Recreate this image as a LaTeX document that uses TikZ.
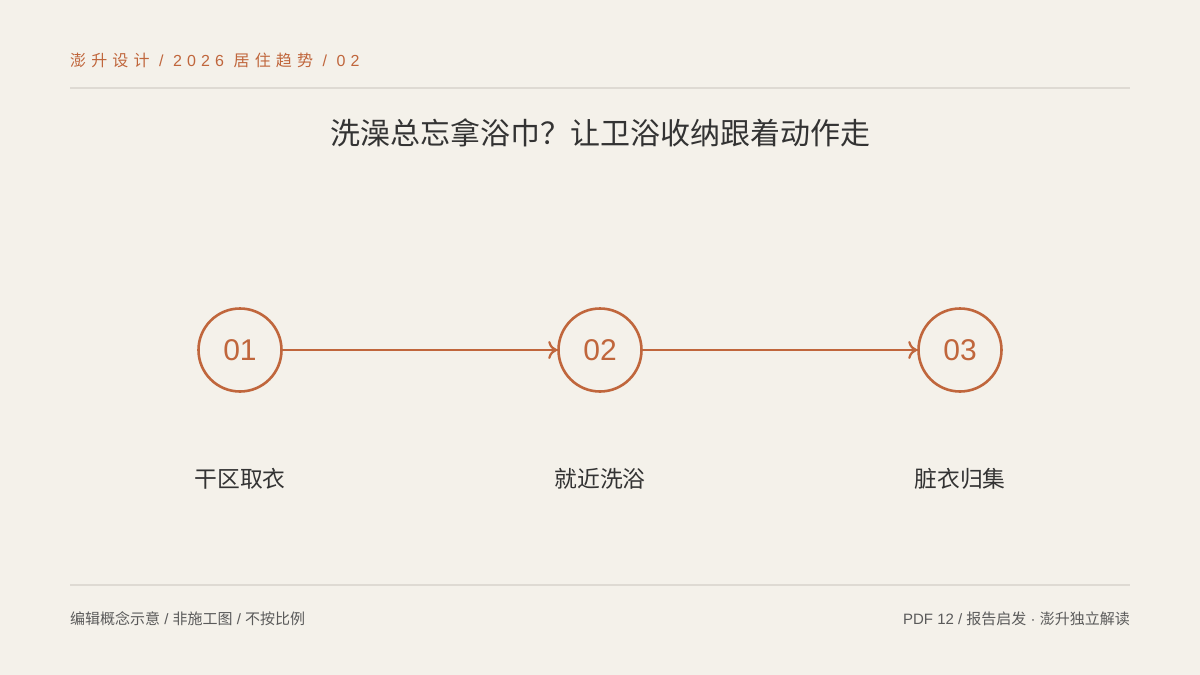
\documentclass[tikz,border=0pt]{standalone}
\usepackage{fontspec}
\setmainfont{Liberation Sans}
\newfontfamily\cjk{Noto Sans CJK SC}
\newfontfamily\cjkspaced[LetterSpace=32]{Noto Sans CJK SC}
\newfontfamily\latspaced[LetterSpace=32]{Liberation Sans}
\usetikzlibrary{arrows.meta}
\definecolor{bg}{HTML}{F4F1EA}
\definecolor{rust}{HTML}{C0663C}
\definecolor{rule}{HTML}{DEDAD3}
\definecolor{ink}{HTML}{333333}
\definecolor{muted}{HTML}{5A5A5A}
\tikzset{
  stepcircle/.style={circle,draw=rust,line width=2.6pt,minimum size=83pt,inner sep=0pt,text=rust,font=\fontsize{30}{30}\selectfont},
  flow/.style={draw=rust,line width=2.6pt,-{To[length=9pt,width=18pt,line width=2.2pt]}},
  steplabel/.style={text=ink,font=\cjk\fontsize{22.8}{22.8}\selectfont},
  rulerline/.style={draw=rule,line width=1.6pt},
}
\begin{document}
\begin{tikzpicture}[x=1pt,y=-1pt]
\fill[bg] (0,0) rectangle (1200,675);
\useasboundingbox (0,0) rectangle (1200,675);
\node[anchor=west,text=rust,inner sep=0pt,font=\fontsize{16}{16}\selectfont] (hdr) at (70,60) {\cjkspaced 澎升设计\latspaced{} / 2026 \cjkspaced 居住趋势\latspaced{} / 02};
\coordinate (l1a) at (70,88); \coordinate (l1b) at (1130,88);
\draw[rulerline] (l1a) -- (l1b);
\node[text=ink,inner sep=0pt,font=\cjk\fontsize{30}{30}\selectfont] (title) at (600,133) {洗澡总忘拿浴巾？让卫浴收纳跟着动作走};
\node[stepcircle] (c1) at (240,350) {01};
\node[stepcircle] (c2) at (600,350) {02};
\node[stepcircle] (c3) at (960,350) {03};
\draw[flow] (c1) -- (c2);
\draw[flow] (c2) -- (c3);
\node[steplabel] (t1) at (240,479) {干区取衣};
\node[steplabel] (t2) at (600,479) {就近洗浴};
\node[steplabel] (t3) at (960,479) {脏衣归集};
\coordinate (l2a) at (70,585); \coordinate (l2b) at (1130,585);
\draw[rulerline] (l2a) -- (l2b);
\node[anchor=west,text=muted,inner sep=0pt,font=\cjk\fontsize{15}{15}\selectfont] (fl) at (70,619) {编辑概念示意\rmfamily{} / \cjk 非施工图\rmfamily{} / \cjk 不按比例};
\node[anchor=east,text=muted,inner sep=0pt,font=\fontsize{15}{15}\selectfont] (fr) at (1130,619) {PDF 12 / \cjk 报告启发\rmfamily{} · \cjk 澎升独立解读};
\end{tikzpicture}
\end{document}
